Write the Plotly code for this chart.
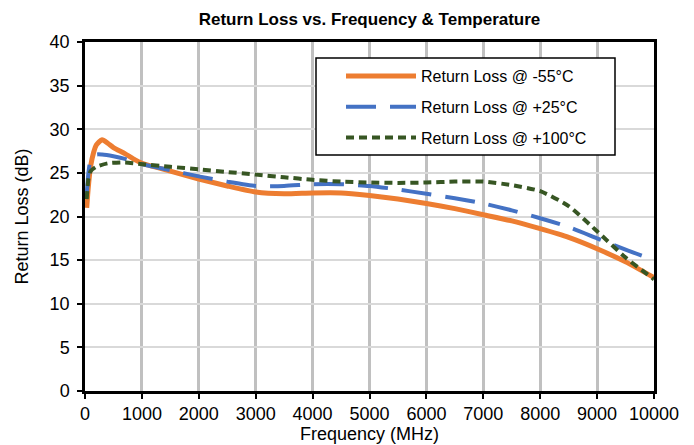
import plotly.graph_objects as go

# -55°C
freq_m55 = [30, 60, 100, 150, 200, 300, 400, 500, 700, 850, 1000, 1500, 2000, 2500, 3000,
            3500, 4000, 4500, 5000, 5500, 6000, 6500, 7000, 7500, 8000, 8500, 9000, 9500, 10000]
rl_m55 = [21.0, 23.5, 25.8, 27.3, 28.2, 28.8, 28.4, 27.9, 27.2, 26.6, 26.1, 25.2, 24.3, 23.5, 22.8,
          22.6, 22.7, 22.7, 22.4, 22.0, 21.5, 20.9, 20.2, 19.5, 18.6, 17.6, 16.3, 14.8, 13.0]

# +25°C
freq_p25 = [30, 60, 100, 200, 300, 500, 700, 1000, 1500, 2000, 2500, 3000, 3500, 4000, 4500,
            5000, 5500, 6000, 6500, 7000, 7500, 8000, 8500, 9000, 9500, 10000]
rl_p25 = [22.5, 25.0, 26.5, 27.1, 27.1, 26.9, 26.6, 26.0, 25.3, 24.6, 24.0, 23.5, 23.5, 23.7, 23.7,
          23.5, 23.1, 22.6, 22.1, 21.5, 20.7, 19.8, 18.8, 17.5, 16.2, 15.0]

# +100°C
freq_p100 = [30, 60, 100, 200, 400, 700, 1000, 1500, 2000, 2500, 3000, 3500, 4000, 4500, 5000,
             5500, 6000, 6500, 7000, 7500, 8000, 8500, 9000, 9500, 10000]
rl_p100 = [22.0, 24.3, 25.2, 25.7, 26.1, 26.2, 26.0, 25.7, 25.4, 25.1, 24.8, 24.5, 24.2, 24.0, 23.9,
           23.85, 23.9, 24.0, 24.0, 23.6, 22.9, 21.2, 18.3, 15.3, 12.8]

series_names = ["Return Loss @ -55°C", "Return Loss @ +25°C", "Return Loss @ +100°C"]

FONT = "Liberation Sans, Arial, sans-serif"

# plot-area pixel geometry
L, R, T, B = 85, 654, 42, 391
PW, PH = R - L, B - T


def px(xp):
    return (xp - L) / PW


def py(yp):
    return (B - yp) / PH


fig = go.Figure()
fig.add_trace(go.Scatter(x=freq_m55, y=rl_m55, mode="lines", name=series_names[0],
                         legendgroup="a", line=dict(color="#ED7D31", width=5, shape="spline", smoothing=0.6)))
fig.add_trace(go.Scatter(x=freq_p25, y=rl_p25, mode="lines", name=series_names[1],
                         legendgroup="b", line=dict(color="#4472C4", width=4, dash="30px,14px", shape="spline", smoothing=0.6)))
fig.add_trace(go.Scatter(x=freq_p100, y=rl_p100, mode="lines", name=series_names[2],
                         legendgroup="c", line=dict(color="#375623", width=4, dash="8px,5px", shape="spline", smoothing=0.6)))

# legend frame
fig.add_shape(type="rect", xref="paper", yref="paper",
              x0=px(316), x1=px(615), y0=py(155), y1=py(58),
              line=dict(color="black", width=1.5), fillcolor="white", layer="above")

fig.update_layout(
    width=694, height=445,
    margin=dict(l=L, r=694 - R, t=T, b=445 - B, autoexpand=False),
    paper_bgcolor="white", plot_bgcolor="white",
    font=dict(family=FONT, color="#000000"),
    title=dict(text="<b>Return Loss vs. Frequency & Temperature</b>", x=(L + R) / 2 / 694, xanchor="center",
               y=1 - 19 / 445, yanchor="middle", font=dict(size=17, family=FONT, color="#000")),
    legend=dict(x=px(341), y=py(59), xanchor="left", yanchor="top",
                bgcolor="rgba(0,0,0,0)", borderwidth=0,
                font=dict(size=16, family=FONT, color="#000"), tracegroupgap=7, itemwidth=70),
    showlegend=True,
)
fig.update_xaxes(range=[0, 10000], dtick=1000, tick0=0, tickformat="d", showgrid=True,
                 gridcolor="#c0c0c0", gridwidth=3, automargin=False,
                 showline=True, linecolor="black", linewidth=2.5, mirror=True,
                 ticks="outside", ticklen=5, tickwidth=2, tickcolor="black",
                 tickfont=dict(size=18, family=FONT, color="#000"),
                 title=dict(text="Frequency (MHz)", font=dict(size=18, family=FONT, color="#000"), standoff=0),
                 zeroline=False)
fig.update_yaxes(range=[0, 40], dtick=5, tick0=0, showgrid=True, gridcolor="#d9d9d9", gridwidth=2,
                 automargin=False, ticklabelstandoff=4,
                 showline=True, linecolor="black", linewidth=2.5, mirror=True,
                 ticks="outside", ticklen=5, tickwidth=2, tickcolor="black",
                 tickfont=dict(size=18, family=FONT, color="#000"),
                 title=dict(text="Return Loss (dB)", font=dict(size=18, family=FONT, color="#000"), standoff=17),
                 zeroline=False)

fig.write_html("out.html", config={"displayModeBar": False},
               post_script="document.body.style.margin='0';")
